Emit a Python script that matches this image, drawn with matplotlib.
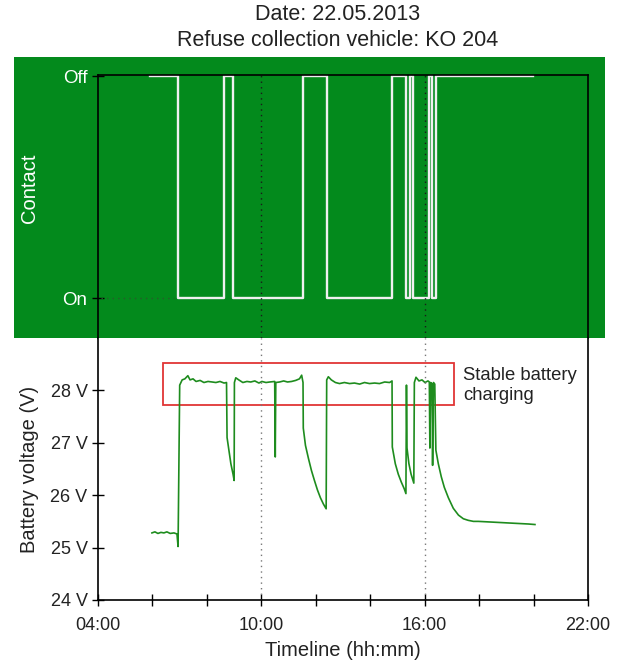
import matplotlib.pyplot as plt
from matplotlib.patches import Rectangle
from matplotlib.ticker import FixedLocator

plt.rcParams['font.family'] = ['Liberation Sans', 'DejaVu Sans']

# contact state (1 = Off, 0 = On), time in hours
contact_t = [5.91, 6.94, 6.94, 8.63, 8.63, 8.96, 8.96, 11.53, 11.53, 12.41, 12.41,
             14.81, 14.81, 15.32, 15.32, 15.47, 15.47, 15.58, 15.58, 16.17, 16.17,
             16.28, 16.28, 16.43, 16.43, 19.96]
contact_v = [1, 1, 0, 0, 1, 1, 0, 0, 1, 1, 0,
             0, 1, 1, 0, 0, 1, 1, 0, 0, 1,
             1, 0, 0, 1, 1]
gap_t = [4.1, 6.8]
gap_v = [0, 0]

# battery voltage, time in hours
volt_t = [5.98, 6.09, 6.20, 6.31, 6.42, 6.53, 6.65, 6.79, 6.90, 6.94, 6.97, 7.00,
          7.09, 7.19, 7.30, 7.38, 7.49, 7.60, 7.75, 7.89, 8.04, 8.19, 8.33, 8.48,
          8.63, 8.72, 8.74, 8.81, 8.88, 8.96, 9.00, 9.01, 9.06, 9.17, 9.32, 9.47,
          9.61, 9.76, 9.91, 10.02, 10.17, 10.31, 10.49, 10.51, 10.53, 10.67, 10.82,
          10.96, 11.11, 11.26, 11.40, 11.48, 11.53, 11.54, 11.62, 11.73, 11.84,
          11.95, 12.06, 12.17, 12.28, 12.38, 12.40, 12.46, 12.57, 12.72, 12.87,
          13.05, 13.24, 13.42, 13.61, 13.79, 13.97, 14.16, 14.34, 14.53, 14.71,
          14.80, 14.81, 14.92, 15.03, 15.14, 15.25, 15.31, 15.33, 15.35, 15.42,
          15.50, 15.60, 15.62, 15.68, 15.79, 15.90, 16.01, 16.12, 16.17, 16.19,
          16.22, 16.27, 16.29, 16.32, 16.37, 16.41, 16.50, 16.61, 16.72, 16.87,
          17.05, 17.24, 17.42, 17.60, 17.79, 17.97, 18.34, 18.71, 19.07, 19.44,
          19.81, 20.05]
volt_v = [25.28, 25.30, 25.27, 25.29, 25.28, 25.30, 25.27, 25.28, 25.26, 25.02, 26.55, 28.10,
          28.20, 28.22, 28.28, 28.20, 28.22, 28.17, 28.19, 28.15, 28.17, 28.16, 28.15, 28.17,
          28.14, 28.15, 27.10, 26.85, 26.60, 26.40, 26.28, 28.15, 28.24, 28.20, 28.15, 28.17,
          28.16, 28.18, 28.14, 28.17, 28.15, 28.16, 28.17, 26.73, 28.15, 28.16, 28.18,
          28.16, 28.17, 28.19, 28.22, 28.29, 28.15, 27.28, 26.95, 26.70, 26.47,
          26.28, 26.10, 25.95, 25.83, 25.74, 28.20, 28.26, 28.20, 28.15, 28.13,
          28.15, 28.13, 28.14, 28.12, 28.15, 28.13, 28.14, 28.13, 28.16, 28.15,
          28.18, 26.92, 26.60, 26.40, 26.25, 26.12, 26.03, 28.10, 26.90, 26.60,
          26.40, 26.23, 28.15, 28.25, 28.18, 28.20, 28.15, 28.18, 28.16, 26.90,
          28.15, 28.12, 26.57, 28.15, 28.12, 26.86, 26.60, 26.35, 26.15, 25.95,
          25.75, 25.62, 25.55, 25.52, 25.50, 25.50, 25.49, 25.48, 25.47, 25.46,
          25.45, 25.44]

major_h = [4, 10, 16, 22]
major_lbl = ['04:00', '10:00', '16:00', '22:00']
minor_h = [6, 8, 12, 14, 18, 20]
volt_ticks = [24, 25, 26, 27, 28]
volt_lbl = ['24 V', '25 V', '26 V', '27 V', '28 V']
box_t = [6.39, 17.08]
box_v = [27.72, 28.52]

green = '#038a1c'
tc = '#222222'

fig = plt.figure(figsize=(6.22, 6.61), dpi=100)
fig.patches.append(Rectangle((0.0225, 0.4887), 0.9502, 0.4251, transform=fig.transFigure,
                             facecolor=green, edgecolor='none', zorder=-1))

# top panel: contact
ax1 = fig.add_axes([0.1576, 0.4887, 0.7878, 0.3978])
ax1.set_zorder(2)
ax1.set_facecolor('none')
ax1.plot(contact_t, contact_v, color='#f0f0f0', lw=1.7)
ax1.plot(gap_t, gap_v, color='#2a5a2a', lw=1, ls=(0, (1, 3)))
ax1.set_xlim(4, 22)
ax1.set_ylim(-0.179, 1.005)
ax1.spines['bottom'].set_visible(False)
for s in ['top', 'left', 'right']:
    ax1.spines[s].set_color('black')
    ax1.spines[s].set_linewidth(1.2)
ax1.set_xticks([])
ax1.set_yticks([0, 1])
ax1.set_yticklabels(['On', 'Off'], color='white', fontsize=13.5)
ax1.tick_params(axis='y', direction='inout', length=8, width=1, color='black')
ax1.set_ylabel('Contact', color='white', fontsize=14.5)
ax1.yaxis.set_label_coords(-0.12, 0.57)
for h in [10, 16]:
    ax1.axvline(h, color='#1a1a1a', lw=1, ls=(0, (1, 3)))

# bottom panel: voltage
ax2 = fig.add_axes([0.1576, 0.0923, 0.7878, 0.3964])
ax2.set_zorder(2)
ax2.plot(volt_t, volt_v, color='#1e8c1e', lw=1.2)
ax2.add_patch(Rectangle((box_t[0], box_v[0]), box_t[1] - box_t[0], box_v[1] - box_v[0],
                        facecolor='none', edgecolor='#e03535', lw=1.3))
ax2.text(17.41, 28.44, 'Stable battery\ncharging', fontsize=13.3, color=tc, va='top',
         linespacing=1.2)
ax2.set_xlim(4, 22)
ax2.set_ylim(24, 29)
ax2.spines['top'].set_visible(False)
for s in ['bottom', 'left', 'right']:
    ax2.spines[s].set_linewidth(1.2)
ax2.xaxis.set_major_locator(FixedLocator(major_h))
ax2.set_xticklabels(major_lbl, fontsize=13, color=tc)
ax2.xaxis.set_minor_locator(FixedLocator(minor_h))
ax2.set_yticks(volt_ticks)
ax2.set_yticklabels(volt_lbl, fontsize=13, color=tc)
ax2.tick_params(axis='both', which='both', direction='inout', length=8, width=1)
ax2.tick_params(axis='x', pad=8)
ax2.set_xlabel('Timeline (hh:mm)', fontsize=14.5, color=tc, labelpad=5)
ax2.set_ylabel('Battery voltage (V)', fontsize=14.5, color=tc)
ax2.yaxis.set_label_coords(-0.12, 0.5)
for h in [10, 16]:
    ax2.axvline(h, color='#777777', lw=1, ls=(0, (1, 3)))

fig.text(0.543, 0.958, 'Date: 22.05.2013\nRefuse collection vehicle: KO 204',
         ha='center', va='center', fontsize=15.5, color=tc, linespacing=1.3)

fig.savefig('out.png', dpi=100)
